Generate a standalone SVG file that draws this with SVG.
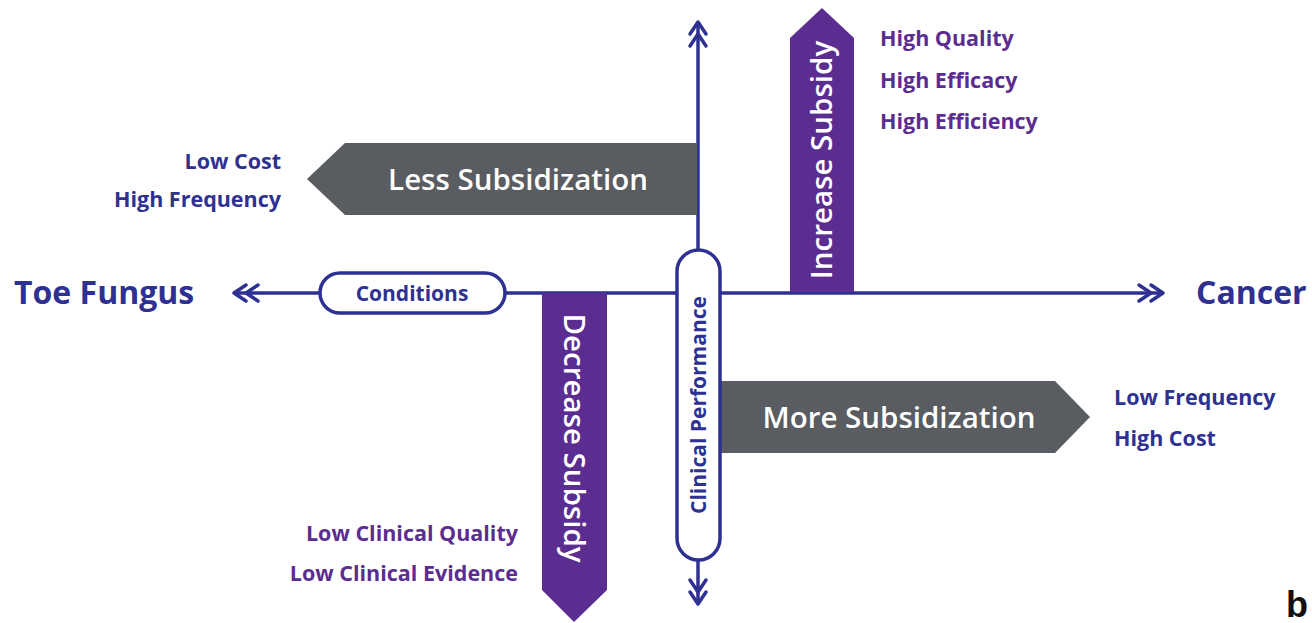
<svg xmlns="http://www.w3.org/2000/svg" width="1312" height="623" viewBox="0 0 1312 623">
<style>
.ax{stroke:#2e3192;stroke-width:3.5;fill:none}
.chev{stroke:#2e3192;stroke-width:3.5;fill:none;stroke-linecap:round;stroke-linejoin:round}
.pill{fill:#fff;stroke:#2e3192;stroke-width:3.5}
.gray{fill:#595c60}
.purp{fill:#5c2d91}
.wt{fill:#fff;font-family:"Open Sans",Lato,sans-serif;font-weight:600;font-size:29.5px}
.bl{fill:#2e3192;font-family:"Open Sans",Lato,sans-serif;font-weight:700;font-size:21.5px}
.pu{fill:#5c2d91;font-family:"Open Sans",Lato,sans-serif;font-weight:700;font-size:21.5px}
.big{fill:#2e3192;font-family:"Open Sans",Lato,sans-serif;font-weight:700;font-size:32px}
.pl{fill:#2e3192;font-family:"Open Sans",Lato,sans-serif;font-weight:700;font-size:21px}
</style>
<rect width="1312" height="623" fill="#fff"/>
<g id="connectors">
<line class="ax" x1="234" y1="293" x2="1163" y2="293"/>
<line class="ax" x1="698" y1="22" x2="698" y2="604"/>
<path class="chev" d="M246,285 L234,293 L246,301 M258,285 L246,293 L258,301"/>
<path class="chev" d="M1151,285 L1163,293 L1151,301 M1139,285 L1151,293 L1139,301"/>
<path class="chev" d="M690,34 L698,22 L706,34 M690,46 L698,34 L706,46"/>
<path class="chev" d="M690,592 L698,604 L706,592 M690,580 L698,592 L706,580"/>
</g>
<g id="less-subsidization">
<polygon class="gray" points="697,143 345,143 307,179 345,215 697,215"/>
<text class="wt" x="518" y="190" text-anchor="middle">Less Subsidization</text>
</g>
<g id="more-subsidization">
<polygon class="gray" points="720,381 1055,381 1090,417 1055,453 720,453"/>
<text class="wt" x="899" y="428" text-anchor="middle">More Subsidization</text>
</g>
<g id="increase-subsidy">
<polygon class="purp" points="790,292 790,38 822,8 854,38 854,292"/>
<text class="wt" transform="translate(832,160) rotate(-90)" text-anchor="middle">Increase Subsidy</text>
</g>
<g id="decrease-subsidy">
<polygon class="purp" points="542,293 542,590 574,622 607,590 607,293"/>
<text class="wt" transform="translate(564,438) rotate(90)" text-anchor="middle">Decrease Subsidy</text>
</g>
<g id="conditions">
<rect class="pill" x="320" y="273" width="185" height="40" rx="20"/>
<text class="pl" x="412" y="300.5" text-anchor="middle">Conditions</text>
</g>
<g id="clinical-performance">
<rect class="pill" x="677" y="250" width="43" height="310" rx="21.5"/>
<text class="pl" transform="translate(706,405) rotate(-90)" text-anchor="middle">Clinical Performance</text>
</g>
<g id="labels">
<text class="pu" x="880" y="46">High Quality</text>
<text class="pu" x="880" y="88">High Efficacy</text>
<text class="pu" x="880" y="129">High Efficiency</text>
<text class="bl" x="281" y="169" text-anchor="end">Low Cost</text>
<text class="bl" x="281" y="207" text-anchor="end">High Frequency</text>
<text class="big" x="14" y="304">Toe Fungus</text>
<text class="big" x="1196" y="304">Cancer</text>
<text class="bl" x="1114" y="405">Low Frequency</text>
<text class="bl" x="1114" y="446">High Cost</text>
<text class="pu" x="518" y="541" text-anchor="end">Low Clinical Quality</text>
<text class="pu" x="518" y="581" text-anchor="end">Low Clinical Evidence</text>
<text x="1286" y="617" style="fill:#111;font-family:'Liberation Sans',sans-serif;font-weight:700;font-size:36px">b</text>
</g>
</svg>
